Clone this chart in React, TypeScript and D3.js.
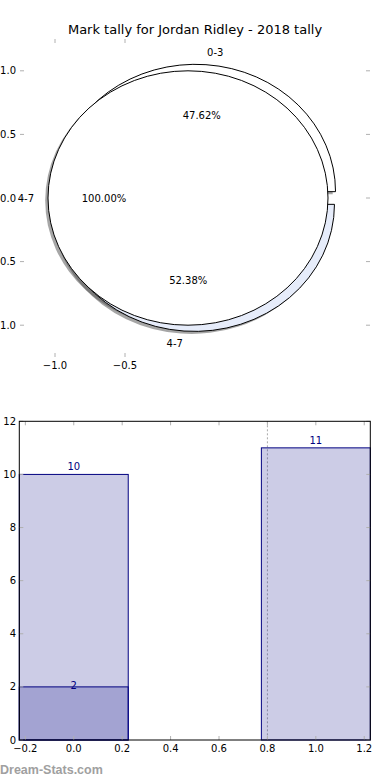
import React from "react";
import * as d3 from "d3";

const title = "Mark tally for Jordan Ridley - 2018 tally";

// outer ring of the pie
const outerLabels = ["0-3", "4-7"];
const outerValues = [10, 11];
const outerColors = ["#ffffff", "#e6ecfa"];
// inner disc drawn on top
const innerLabels = ["4-7"];
const innerValues = [2];
const innerColors = ["#ffffff"];
const explode = 0.05;

const pieXTicks = [-1.0, -0.5];
const pieYTicks = [1.0, 0.5, 0.0, -0.5, -1.0];

// bar chart
const barX = [0, 1];
const barTotals = [10, 11];
const barSubX = [0];
const barSubValues = [2];
const barWidth = 0.45;
const barXTicks = [-0.2, 0.0, 0.2, 0.4, 0.6, 0.8, 1.0, 1.2];
const barYTicks = [0, 2, 4, 6, 8, 10, 12];
const markerX = 0.8;

const W = 390;
const H = 780;
const FONT = "DejaVu Sans, sans-serif";
const TICK = "#b0b0b0";
const NAVY = "#000080";

const fmt = (v: number) => (v < 0 ? "\u2212" : "") + Math.abs(v).toFixed(1);

type Wedge = {
  path: string;
  ex: number;
  ey: number;
  theta: number;
  label: string;
  pct: string;
  color: string;
};

function buildPie(values: number[], labels: string[], colors: string[]): Wedge[] {
  const gen = d3
    .pie<number>()
    .sort(null)
    .value((d) => d)
    .startAngle(Math.PI / 2)
    .endAngle(Math.PI / 2 - 2 * Math.PI);
  const arc = d3.arc<d3.PieArcDatum<number>>().innerRadius(0).outerRadius(1);
  const total = d3.sum(values);
  return gen(values).map((a, i) => {
    // matplotlib angle (ccw from east) of the wedge middle
    const theta = Math.PI / 2 - (a.startAngle + a.endAngle) / 2;
    return {
      path: arc(a) || "",
      ex: explode * Math.cos(theta),
      ey: explode * Math.sin(theta),
      theta,
      label: labels[i],
      pct: ((values[i] / total) * 100).toFixed(2) + "%",
      color: colors[i],
    };
  });
}

const App = () => {
  // pie axes
  const px = d3.scaleLinear().domain([-1.25, 1.25]).range([20, 370]);
  const py = d3.scaleLinear().domain([-1.25, 1.25]).range([357, 39]);
  const sx = px(1) - px(0);
  const sy = py(0) - py(1);
  const outer = buildPie(outerValues, outerLabels, outerColors);
  const inner = buildPie(innerValues, innerLabels, innerColors);
  const all = [...outer, ...inner];
  const tf = (w: Wedge, dx = 0, dy = 0) =>
    `translate(${px(w.ex + dx)},${py(w.ey + dy)}) scale(${sx},${sy})`;

  // bar axes
  const bx = d3.scaleLinear().domain([-0.225, 1.225]).range([19.3, 370.3]);
  const by = d3.scaleLinear().domain([0, 12]).range([740, 421.3]);
  const [bl, br] = bx.range();
  const [bb, bt] = by.range();

  return (
    <div style={{ position: "absolute", left: 0, top: 0 }}>
      <svg width={W} height={H} style={{ display: "block", background: "#fff" }} fontFamily={FONT}>
        <text x={195} y={34} textAnchor="middle" fontSize={13} fill="#000">
          {title}
        </text>

        {/* pie ticks */}
        {pieXTicks.map((t) => (
          <g key={"px" + t}>
            <line x1={px(t)} x2={px(t)} y1={py.range()[1]} y2={py.range()[1] + 4} stroke={TICK} />
            <line x1={px(t)} x2={px(t)} y1={py.range()[0]} y2={py.range()[0] - 4} stroke={TICK} />
            <text x={px(t)} y={369} textAnchor="middle" fontSize={10}>
              {fmt(t)}
            </text>
          </g>
        ))}
        {pieYTicks.map((t) => (
          <g key={"py" + t}>
            <line x1={20} x2={24} y1={py(t)} y2={py(t)} stroke={TICK} />
            <line x1={370} x2={366} y1={py(t)} y2={py(t)} stroke={TICK} />
            <text x={16} y={py(t)} dy="0.35em" textAnchor="end" fontSize={10}>
              {fmt(t)}
            </text>
          </g>
        ))}

        {/* shadows under every wedge */}
        {all.map((w, i) => (
          <path key={"s" + i} d={w.path} transform={tf(w, -0.02, -0.02)} fill="rgb(77,77,77)" fillOpacity={0.5} />
        ))}
        {all.map((w, i) => (
          <path
            key={"w" + i}
            d={w.path}
            transform={tf(w)}
            fill={w.color}
            stroke="#000"
            strokeWidth={1}
            vectorEffect="non-scaling-stroke"
          />
        ))}
        {all.map((w, i) => {
          const c = Math.cos(w.theta);
          const s = Math.sin(w.theta);
          return (
            <g key={"t" + i} fontSize={10}>
              <text
                x={px(w.ex + 1.1 * c)}
                y={py(w.ey + 1.1 * s)}
                dy="0.35em"
                textAnchor={c > 1e-9 ? "start" : "end"}
              >
                {w.label}
              </text>
              <text x={px(w.ex + 0.6 * c)} y={py(w.ey + 0.6 * s)} dy="0.35em" textAnchor="middle">
                {w.pct}
              </text>
            </g>
          );
        })}

        {/* bar chart */}
        <line x1={bx(markerX)} x2={bx(markerX)} y1={bt} y2={bb} stroke="#aaa" strokeDasharray="2,2" />
        {barX.map((x, i) => (
          <rect
            key={"b" + i}
            x={bx(x - barWidth / 2)}
            y={by(barTotals[i])}
            width={bx(x + barWidth / 2) - bx(x - barWidth / 2)}
            height={by(0) - by(barTotals[i])}
            fill={NAVY}
            fillOpacity={0.2}
            stroke={NAVY}
          />
        ))}
        {barSubX.map((x, i) => (
          <rect
            key={"sb" + i}
            x={bx(x - barWidth / 2)}
            y={by(barSubValues[i])}
            width={bx(x + barWidth / 2) - bx(x - barWidth / 2)}
            height={by(0) - by(barSubValues[i])}
            fill={NAVY}
            fillOpacity={0.2}
            stroke={NAVY}
          />
        ))}
        {barX.map((x, i) => (
          <text key={"bl" + i} x={bx(x)} y={by(barTotals[i]) - 4} textAnchor="middle" fontSize={10} fill={NAVY}>
            {barTotals[i]}
          </text>
        ))}
        {barSubX.map((x, i) => (
          <text key={"sl" + i} x={bx(x)} y={by(barSubValues[i]) + 2} textAnchor="middle" fontSize={10} fill={NAVY}>
            {barSubValues[i]}
          </text>
        ))}

        {barXTicks.map((t) => (
          <g key={"bx" + t}>
            <line x1={bx(t)} x2={bx(t)} y1={bb} y2={bb - 4} stroke={TICK} />
            <line x1={bx(t)} x2={bx(t)} y1={bt} y2={bt + 4} stroke={TICK} />
            <text x={bx(t)} y={752} textAnchor="middle" fontSize={10}>
              {fmt(t)}
            </text>
          </g>
        ))}
        {barYTicks.map((t) => (
          <g key={"by" + t}>
            <line x1={bl} x2={bl + 4} y1={by(t)} y2={by(t)} stroke={TICK} />
            <line x1={br} x2={br - 4} y1={by(t)} y2={by(t)} stroke={TICK} />
            <text x={16} y={by(t)} dy="0.35em" textAnchor="end" fontSize={10}>
              {t}
            </text>
          </g>
        ))}
        <rect x={bl} y={bt} width={br - bl} height={bb - bt} fill="none" stroke="#000" />

        <text x={0} y={774} fontSize={12.5} fontWeight="bold" fontFamily="Liberation Sans, Arial, sans-serif" fill="#a0a0a0">
          Dream-Stats.com
        </text>
      </svg>
    </div>
  );
};

export default App;
